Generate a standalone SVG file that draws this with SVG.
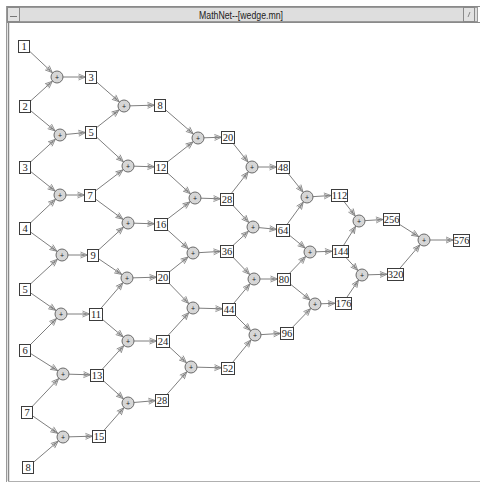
<svg xmlns="http://www.w3.org/2000/svg" width="480" height="483" viewBox="0 0 480 483">
<style>
.e{stroke:#6f6f6f;stroke-width:0.9;fill:none}
.ec{marker-end:url(#mc)}
.e1{marker-end:url(#m1)}
.e2{marker-end:url(#m2)}
.e3{marker-end:url(#m3)}
.bx rect{fill:#fff;stroke:#3c3c3c;stroke-width:1}
.bx text{font-family:"Liberation Serif",serif;font-size:10.5px;fill:#222;text-anchor:middle}
.op circle{fill:#d6d6d6;stroke:#6a6a6a;stroke-width:1}
.op text{font-family:"Liberation Sans",sans-serif;font-size:7px;fill:#222;text-anchor:middle}
.ah{stroke:#7c7c7c;stroke-width:0.8;fill:none}
</style>
<defs>
<marker id="mc" markerUnits="userSpaceOnUse" refX="6.5" refY="0" markerWidth="10" markerHeight="10" orient="auto" overflow="visible"><path class="ah" d="M-7,-3 L0,0 L-7,3 M-7,-1.4 L-3,0 L-7,1.4"/></marker>
<marker id="m1" markerUnits="userSpaceOnUse" refX="5.5" refY="0" markerWidth="10" markerHeight="10" orient="auto" overflow="visible"><path class="ah" d="M-7,-3 L0,0 L-7,3 M-7,-1.4 L-3,0 L-7,1.4"/></marker>
<marker id="m2" markerUnits="userSpaceOnUse" refX="6.5" refY="0" markerWidth="10" markerHeight="10" orient="auto" overflow="visible"><path class="ah" d="M-7,-3 L0,0 L-7,3 M-7,-1.4 L-3,0 L-7,1.4"/></marker>
<marker id="m3" markerUnits="userSpaceOnUse" refX="8" refY="0" markerWidth="10" markerHeight="10" orient="auto" overflow="visible"><path class="ah" d="M-7,-3 L0,0 L-7,3 M-7,-1.4 L-3,0 L-7,1.4"/></marker>
</defs>
<rect x="0" y="0" width="480" height="483" fill="#fff"/>
<g id="window">
<line x1="6" y1="6.5" x2="480" y2="6.5" stroke="#8a8a8a"/>
<rect x="7.5" y="7.5" width="470" height="14" fill="#dedede" stroke="#9a9a9a"/>
<rect x="7.5" y="7.5" width="12" height="14" fill="#e2e2e2" stroke="#8a8a8a"/>
<line x1="10" y1="16.5" x2="17" y2="16.5" stroke="#777"/>
<rect x="463.5" y="7.5" width="11" height="14" fill="#e2e2e2" stroke="#8a8a8a"/>
<line x1="468" y1="17" x2="470" y2="12" stroke="#888"/>
<line x1="6" y1="22.5" x2="480" y2="22.5" stroke="#8a8a8a"/>
<line x1="6.5" y1="6" x2="6.5" y2="482" stroke="#9a9a9a"/>
<line x1="8.5" y1="23" x2="8.5" y2="481" stroke="#8a8a8a" stroke-width="1.5"/>
<line x1="8" y1="481.5" x2="480" y2="481.5" stroke="#b0b0b0"/>
<text x="241" y="18.5" font-family="Liberation Sans, sans-serif" font-size="11.5" fill="#222" text-anchor="middle" textLength="84" lengthAdjust="spacingAndGlyphs">MathNet--[wedge.mn]</text>
</g>
<g id="connectors">
<line class="e ec" x1="24" y1="46" x2="57" y2="77"/>
<line class="e ec" x1="25" y1="106" x2="57" y2="77"/>
<line class="e e1" x1="57" y1="77" x2="91" y2="77"/>
<line class="e ec" x1="25" y1="106" x2="60" y2="135"/>
<line class="e ec" x1="25" y1="167" x2="60" y2="135"/>
<line class="e e1" x1="60" y1="135" x2="91" y2="132"/>
<line class="e ec" x1="25" y1="167" x2="60" y2="195"/>
<line class="e ec" x1="25" y1="228" x2="60" y2="195"/>
<line class="e e1" x1="60" y1="195" x2="90" y2="195"/>
<line class="e ec" x1="25" y1="228" x2="62" y2="255"/>
<line class="e ec" x1="25" y1="289" x2="62" y2="255"/>
<line class="e e1" x1="62" y1="255" x2="93" y2="255"/>
<line class="e ec" x1="25" y1="289" x2="61" y2="314"/>
<line class="e ec" x1="25" y1="350" x2="61" y2="314"/>
<line class="e e2" x1="61" y1="314" x2="96" y2="314"/>
<line class="e ec" x1="25" y1="350" x2="63" y2="374"/>
<line class="e ec" x1="27" y1="412" x2="63" y2="374"/>
<line class="e e2" x1="63" y1="374" x2="97" y2="375"/>
<line class="e ec" x1="27" y1="412" x2="63" y2="437"/>
<line class="e ec" x1="28" y1="467" x2="63" y2="437"/>
<line class="e e2" x1="63" y1="437" x2="99" y2="436"/>

<line class="e ec" x1="91" y1="77" x2="124" y2="106"/>
<line class="e ec" x1="91" y1="132" x2="124" y2="106"/>
<line class="e e1" x1="124" y1="106" x2="160" y2="105"/>
<line class="e ec" x1="91" y1="132" x2="128" y2="166"/>
<line class="e ec" x1="90" y1="195" x2="128" y2="166"/>
<line class="e e2" x1="128" y1="166" x2="161" y2="167"/>
<line class="e ec" x1="90" y1="195" x2="128" y2="223"/>
<line class="e ec" x1="93" y1="255" x2="128" y2="223"/>
<line class="e e2" x1="128" y1="223" x2="161" y2="224"/>
<line class="e ec" x1="93" y1="255" x2="127" y2="278"/>
<line class="e ec" x1="96" y1="314" x2="127" y2="278"/>
<line class="e e2" x1="127" y1="278" x2="163" y2="277"/>
<line class="e ec" x1="96" y1="314" x2="128" y2="341"/>
<line class="e ec" x1="97" y1="375" x2="128" y2="341"/>
<line class="e e2" x1="128" y1="341" x2="163" y2="341"/>
<line class="e ec" x1="97" y1="375" x2="128" y2="403"/>
<line class="e ec" x1="99" y1="436" x2="128" y2="403"/>
<line class="e e2" x1="128" y1="403" x2="162" y2="400"/>

<line class="e ec" x1="160" y1="105" x2="198" y2="138"/>
<line class="e ec" x1="161" y1="167" x2="198" y2="138"/>
<line class="e e2" x1="198" y1="138" x2="228" y2="137"/>
<line class="e ec" x1="161" y1="167" x2="195" y2="198"/>
<line class="e ec" x1="161" y1="224" x2="195" y2="198"/>
<line class="e e2" x1="195" y1="198" x2="227" y2="199"/>
<line class="e ec" x1="161" y1="224" x2="193" y2="253"/>
<line class="e ec" x1="163" y1="277" x2="193" y2="253"/>
<line class="e e2" x1="193" y1="253" x2="227" y2="251"/>
<line class="e ec" x1="163" y1="277" x2="193" y2="308"/>
<line class="e ec" x1="163" y1="341" x2="193" y2="308"/>
<line class="e e2" x1="193" y1="308" x2="229" y2="309"/>
<line class="e ec" x1="163" y1="341" x2="191" y2="367"/>
<line class="e ec" x1="162" y1="400" x2="191" y2="367"/>
<line class="e e2" x1="191" y1="367" x2="228" y2="368"/>

<line class="e ec" x1="228" y1="137" x2="252" y2="167"/>
<line class="e ec" x1="227" y1="199" x2="252" y2="167"/>
<line class="e e2" x1="252" y1="167" x2="283" y2="167"/>
<line class="e ec" x1="227" y1="199" x2="253" y2="227"/>
<line class="e ec" x1="227" y1="251" x2="253" y2="227"/>
<line class="e e2" x1="253" y1="227" x2="283" y2="230"/>
<line class="e ec" x1="227" y1="251" x2="254" y2="279"/>
<line class="e ec" x1="229" y1="309" x2="254" y2="279"/>
<line class="e e2" x1="254" y1="279" x2="284" y2="279"/>
<line class="e ec" x1="229" y1="309" x2="255" y2="335"/>
<line class="e ec" x1="228" y1="368" x2="255" y2="335"/>
<line class="e e2" x1="255" y1="335" x2="287" y2="333"/>

<line class="e ec" x1="283" y1="167" x2="307" y2="197"/>
<line class="e ec" x1="283" y1="230" x2="307" y2="197"/>
<line class="e e3" x1="307" y1="197" x2="339" y2="195"/>
<line class="e ec" x1="283" y1="230" x2="310" y2="252"/>
<line class="e ec" x1="284" y1="279" x2="310" y2="252"/>
<line class="e e3" x1="310" y1="252" x2="340" y2="251"/>
<line class="e ec" x1="284" y1="279" x2="315" y2="304"/>
<line class="e ec" x1="287" y1="333" x2="315" y2="304"/>
<line class="e e3" x1="315" y1="304" x2="343" y2="303"/>

<line class="e ec" x1="339" y1="195" x2="359" y2="221"/>
<line class="e ec" x1="340" y1="251" x2="359" y2="221"/>
<line class="e e3" x1="359" y1="221" x2="391" y2="219"/>
<line class="e ec" x1="340" y1="251" x2="362" y2="275"/>
<line class="e ec" x1="343" y1="303" x2="362" y2="275"/>
<line class="e e3" x1="362" y1="275" x2="395" y2="274"/>

<line class="e ec" x1="391" y1="219" x2="424" y2="240"/>
<line class="e ec" x1="395" y1="274" x2="424" y2="240"/>
<line class="e e3" x1="424" y1="240" x2="461" y2="240"/>
</g>

<g id="n1" class="bx"><rect x="18.5" y="40.5" width="11" height="12"/><text x="24" y="50">1</text></g>
<g id="n2" class="bx"><rect x="19.5" y="100.5" width="11" height="12"/><text x="25" y="110">2</text></g>
<g id="n3" class="bx"><rect x="19.5" y="161.5" width="11" height="12"/><text x="25" y="171">3</text></g>
<g id="n4" class="bx"><rect x="19.5" y="222.5" width="11" height="12"/><text x="25" y="232">4</text></g>
<g id="n5" class="bx"><rect x="19.5" y="283.5" width="11" height="12"/><text x="25" y="293">5</text></g>
<g id="n6" class="bx"><rect x="19.5" y="344.5" width="11" height="12"/><text x="25" y="354">6</text></g>
<g id="n7" class="bx"><rect x="21.5" y="406.5" width="11" height="12"/><text x="27" y="416">7</text></g>
<g id="n8" class="bx"><rect x="22.5" y="461.5" width="11" height="12"/><text x="28" y="471">8</text></g>

<g id="p1" class="op"><circle cx="57" cy="77" r="6"/><text x="57" y="79.5">+</text></g>
<g id="p2" class="op"><circle cx="60" cy="135" r="6"/><text x="60" y="137.5">+</text></g>
<g id="p3" class="op"><circle cx="60" cy="195" r="6"/><text x="60" y="197.5">+</text></g>
<g id="p4" class="op"><circle cx="62" cy="255" r="6"/><text x="62" y="257.5">+</text></g>
<g id="p5" class="op"><circle cx="61" cy="314" r="6"/><text x="61" y="316.5">+</text></g>
<g id="p6" class="op"><circle cx="63" cy="374" r="6"/><text x="63" y="376.5">+</text></g>
<g id="p7" class="op"><circle cx="63" cy="437" r="6"/><text x="63" y="439.5">+</text></g>

<g id="b3" class="bx"><rect x="85.5" y="71.5" width="11" height="12"/><text x="91" y="81">3</text></g>
<g id="b5" class="bx"><rect x="85.5" y="126.5" width="11" height="12"/><text x="91" y="136">5</text></g>
<g id="b7" class="bx"><rect x="84.5" y="189.5" width="11" height="12"/><text x="90" y="199">7</text></g>
<g id="b9" class="bx"><rect x="87.5" y="249.5" width="11" height="12"/><text x="93" y="259">9</text></g>
<g id="b11" class="bx"><rect x="89.5" y="308.5" width="13" height="12"/><text x="96" y="318">11</text></g>
<g id="b13" class="bx"><rect x="90.5" y="369.5" width="13" height="12"/><text x="97" y="379">13</text></g>
<g id="b15" class="bx"><rect x="92.5" y="430.5" width="13" height="12"/><text x="99" y="440">15</text></g>

<g id="q1" class="op"><circle cx="124" cy="106" r="6"/><text x="124" y="108.5">+</text></g>
<g id="q2" class="op"><circle cx="128" cy="166" r="6"/><text x="128" y="168.5">+</text></g>
<g id="q3" class="op"><circle cx="128" cy="223" r="6"/><text x="128" y="225.5">+</text></g>
<g id="q4" class="op"><circle cx="127" cy="278" r="6"/><text x="127" y="280.5">+</text></g>
<g id="q5" class="op"><circle cx="128" cy="341" r="6"/><text x="128" y="343.5">+</text></g>
<g id="q6" class="op"><circle cx="128" cy="403" r="6"/><text x="128" y="405.5">+</text></g>

<g id="c8" class="bx"><rect x="154.5" y="99.5" width="11" height="12"/><text x="160" y="109">8</text></g>
<g id="c12" class="bx"><rect x="154.5" y="161.5" width="13" height="12"/><text x="161" y="171">12</text></g>
<g id="c16" class="bx"><rect x="154.5" y="218.5" width="13" height="12"/><text x="161" y="228">16</text></g>
<g id="c20" class="bx"><rect x="156.5" y="271.5" width="13" height="12"/><text x="163" y="281">20</text></g>
<g id="c24" class="bx"><rect x="156.5" y="335.5" width="13" height="12"/><text x="163" y="345">24</text></g>
<g id="c28" class="bx"><rect x="155.5" y="394.5" width="13" height="12"/><text x="162" y="404">28</text></g>

<g id="r1" class="op"><circle cx="198" cy="138" r="6"/><text x="198" y="140.5">+</text></g>
<g id="r2" class="op"><circle cx="195" cy="198" r="6"/><text x="195" y="200.5">+</text></g>
<g id="r3" class="op"><circle cx="193" cy="253" r="6"/><text x="193" y="255.5">+</text></g>
<g id="r4" class="op"><circle cx="193" cy="308" r="6"/><text x="193" y="310.5">+</text></g>
<g id="r5" class="op"><circle cx="191" cy="367" r="6"/><text x="191" y="369.5">+</text></g>

<g id="d20" class="bx"><rect x="221.5" y="131.5" width="13" height="12"/><text x="228" y="141">20</text></g>
<g id="d28" class="bx"><rect x="220.5" y="193.5" width="13" height="12"/><text x="227" y="203">28</text></g>
<g id="d36" class="bx"><rect x="220.5" y="245.5" width="13" height="12"/><text x="227" y="255">36</text></g>
<g id="d44" class="bx"><rect x="222.5" y="303.5" width="13" height="12"/><text x="229" y="313">44</text></g>
<g id="d52" class="bx"><rect x="221.5" y="362.5" width="13" height="12"/><text x="228" y="372">52</text></g>

<g id="s1" class="op"><circle cx="252" cy="167" r="6"/><text x="252" y="169.5">+</text></g>
<g id="s2" class="op"><circle cx="253" cy="227" r="6"/><text x="253" y="229.5">+</text></g>
<g id="s3" class="op"><circle cx="254" cy="279" r="6"/><text x="254" y="281.5">+</text></g>
<g id="s4" class="op"><circle cx="255" cy="335" r="6"/><text x="255" y="337.5">+</text></g>

<g id="e48" class="bx"><rect x="276.5" y="161.5" width="13" height="12"/><text x="283" y="171">48</text></g>
<g id="e64" class="bx"><rect x="276.5" y="224.5" width="13" height="12"/><text x="283" y="234">64</text></g>
<g id="e80" class="bx"><rect x="277.5" y="273.5" width="13" height="12"/><text x="284" y="283">80</text></g>
<g id="e96" class="bx"><rect x="280.5" y="327.5" width="13" height="12"/><text x="287" y="337">96</text></g>

<g id="t1" class="op"><circle cx="307" cy="197" r="6"/><text x="307" y="199.5">+</text></g>
<g id="t2" class="op"><circle cx="310" cy="252" r="6"/><text x="310" y="254.5">+</text></g>
<g id="t3" class="op"><circle cx="315" cy="304" r="6"/><text x="315" y="306.5">+</text></g>

<g id="f112" class="bx"><rect x="331.5" y="189.5" width="16" height="12"/><text x="339.5" y="199">112</text></g>
<g id="f144" class="bx"><rect x="332.5" y="245.5" width="16" height="12"/><text x="340.5" y="255">144</text></g>
<g id="f176" class="bx"><rect x="335.5" y="297.5" width="16" height="12"/><text x="343.5" y="307">176</text></g>

<g id="u1" class="op"><circle cx="359" cy="221" r="6"/><text x="359" y="223.5">+</text></g>
<g id="u2" class="op"><circle cx="362" cy="275" r="6"/><text x="362" y="277.5">+</text></g>

<g id="g256" class="bx"><rect x="383.5" y="213.5" width="16" height="12"/><text x="391.5" y="223">256</text></g>
<g id="g320" class="bx"><rect x="387.5" y="268.5" width="16" height="12"/><text x="395.5" y="278">320</text></g>

<g id="v" class="op"><circle cx="424" cy="240" r="6"/><text x="424" y="242.5">+</text></g>

<g id="h576" class="bx"><rect x="453.5" y="234.5" width="16" height="12"/><text x="461.5" y="244">576</text></g>
</svg>
